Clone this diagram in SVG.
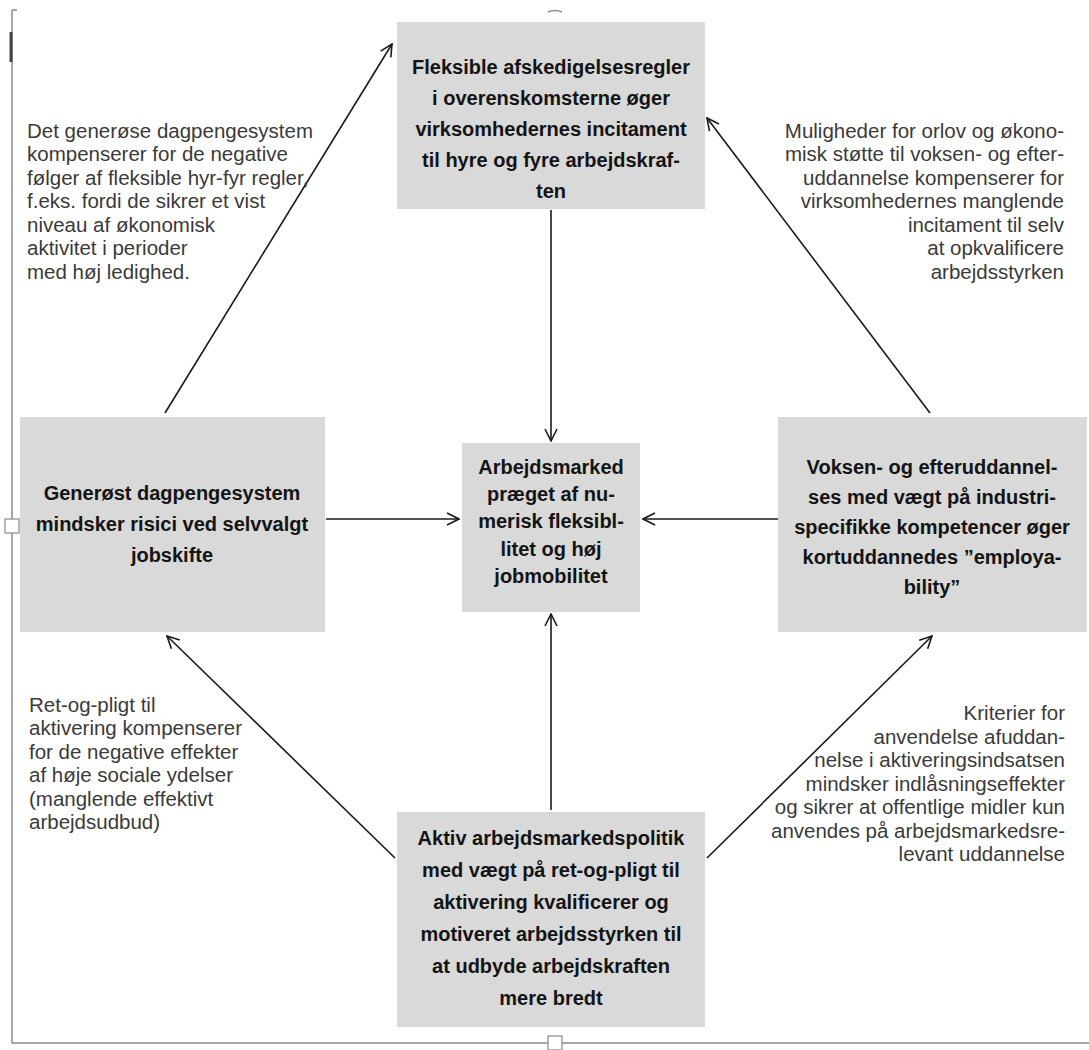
<svg xmlns="http://www.w3.org/2000/svg" width="1089" height="1050" viewBox="0 0 1089 1050">
<style>
.box{fill:#d9d9d9;stroke:none}
.b{font-family:"Liberation Sans",Arial,sans-serif;font-weight:bold;font-size:20px;fill:#141414;text-anchor:middle}
.r{font-family:"Liberation Sans",Arial,sans-serif;font-size:20.5px;fill:#3a3a3a}
.re{text-anchor:end}
.con{stroke:#1a1a1a;stroke-width:1.6;fill:none;marker-end:url(#arr)}
.frame{stroke:#8a8a8a;stroke-width:1.5;fill:none}
</style>
<defs>
<marker id="arr" viewBox="0 0 14 14" refX="13" refY="7" markerWidth="14" markerHeight="14" markerUnits="userSpaceOnUse" orient="auto">
<path d="M1,1 L13,7 L1,13" fill="none" stroke="#1a1a1a" stroke-width="1.6"/>
</marker>
</defs>
<rect width="1089" height="1050" fill="#ffffff"/>
<g id="frame">
<path class="frame" d="M12,10 V1043 H1089"/>
<path class="frame" d="M12,10 H17"/>
<path d="M11,32 V62" stroke="#444" stroke-width="3"/>
<path class="frame" d="M548,12 Q555,9 562,12"/>
<rect x="5" y="519" width="14" height="14" fill="#fff" stroke="#8a8a8a" stroke-width="1.2"/>
<rect x="548" y="1036" width="14" height="14" fill="#fff" stroke="#8a8a8a" stroke-width="1.2"/>
</g>
<g id="connectors">
<line class="con" x1="165" y1="413" x2="392" y2="44"/>
<line class="con" x1="930" y1="413" x2="707" y2="118"/>
<line class="con" x1="551" y1="210" x2="551" y2="441"/>
<line class="con" x1="326" y1="519" x2="459" y2="519"/>
<line class="con" x1="778" y1="519" x2="643" y2="519"/>
<line class="con" x1="551" y1="810" x2="551" y2="614"/>
<line class="con" x1="395" y1="858" x2="167" y2="636"/>
<line class="con" x1="707" y1="858" x2="932" y2="636"/>
</g>
<g id="node-top">
<rect class="box" x="397" y="22" width="308" height="187"/>
<text class="b" x="551" y="74">Fleksible afskedigelsesregler</text>
<text class="b" x="551" y="105">i overenskomsterne øger</text>
<text class="b" x="551" y="136">virksomhedernes incitament</text>
<text class="b" x="551" y="167">til hyre og fyre arbejdskraf-</text>
<text class="b" x="551" y="198">ten</text>
</g>
<g id="node-left">
<rect class="box" x="20" y="417" width="305" height="215"/>
<text class="b" x="172" y="500">Generøst dagpengesystem</text>
<text class="b" x="172" y="531">mindsker risici ved selvvalgt</text>
<text class="b" x="172" y="562">jobskifte</text>
</g>
<g id="node-center">
<rect class="box" x="462" y="443" width="178" height="169"/>
<text class="b" x="551" y="474">Arbejdsmarked</text>
<text class="b" x="551" y="501">præget af nu-</text>
<text class="b" x="551" y="528">merisk fleksibl-</text>
<text class="b" x="551" y="556">litet og høj</text>
<text class="b" x="551" y="583">jobmobilitet</text>
</g>
<g id="node-right">
<rect class="box" x="778" y="417" width="309" height="215"/>
<text class="b" x="932" y="474">Voksen- og efteruddannel-</text>
<text class="b" x="932" y="504">ses med vægt på industri-</text>
<text class="b" x="932" y="534">specifikke kompetencer øger</text>
<text class="b" x="932" y="564">kortuddannedes ”employa-</text>
<text class="b" x="932" y="594">bility”</text>
</g>
<g id="node-bottom">
<rect class="box" x="397" y="812" width="308" height="215"/>
<text class="b" x="551" y="845">Aktiv arbejdsmarkedspolitik</text>
<text class="b" x="551" y="877">med vægt på ret-og-pligt til</text>
<text class="b" x="551" y="909">aktivering kvalificerer og</text>
<text class="b" x="551" y="941">motiveret arbejdsstyrken til</text>
<text class="b" x="551" y="973">at udbyde arbejdskraften</text>
<text class="b" x="551" y="1005">mere bredt</text>
</g>
<g id="label-top-left">
<text class="r" x="27" y="138">Det generøse dagpengesystem</text>
<text class="r" x="27" y="161">kompenserer for de negative</text>
<text class="r" x="27" y="185">følger af fleksible hyr-fyr regler,</text>
<text class="r" x="27" y="208">f.eks. fordi de sikrer et vist</text>
<text class="r" x="27" y="232">niveau af økonomisk</text>
<text class="r" x="27" y="255">aktivitet i perioder</text>
<text class="r" x="27" y="279">med høj ledighed.</text>
</g>
<g id="label-top-right">
<text class="r re" x="1064" y="138">Muligheder for orlov og økono-</text>
<text class="r re" x="1064" y="161">misk støtte til voksen- og efter-</text>
<text class="r re" x="1064" y="185">uddannelse kompenserer for</text>
<text class="r re" x="1064" y="208">virksomhedernes manglende</text>
<text class="r re" x="1064" y="232">incitament til selv</text>
<text class="r re" x="1064" y="255">at opkvalificere</text>
<text class="r re" x="1064" y="279">arbejdsstyrken</text>
</g>
<g id="label-bottom-left">
<text class="r" x="29" y="712">Ret-og-pligt til</text>
<text class="r" x="29" y="735">aktivering kompenserer</text>
<text class="r" x="29" y="759">for de negative effekter</text>
<text class="r" x="29" y="782">af høje sociale ydelser</text>
<text class="r" x="29" y="806">(manglende effektivt</text>
<text class="r" x="29" y="829">arbejdsudbud)</text>
</g>
<g id="label-bottom-right">
<text class="r re" x="1065" y="720">Kriterier for</text>
<text class="r re" x="1065" y="744">anvendelse afuddan-</text>
<text class="r re" x="1065" y="767">nelse i aktiveringsindsatsen</text>
<text class="r re" x="1065" y="791">mindsker indlåsningseffekter</text>
<text class="r re" x="1065" y="814">og sikrer at offentlige midler kun</text>
<text class="r re" x="1065" y="838">anvendes på arbejdsmarkedsre-</text>
<text class="r re" x="1065" y="861">levant uddannelse</text>
</g>
</svg>
